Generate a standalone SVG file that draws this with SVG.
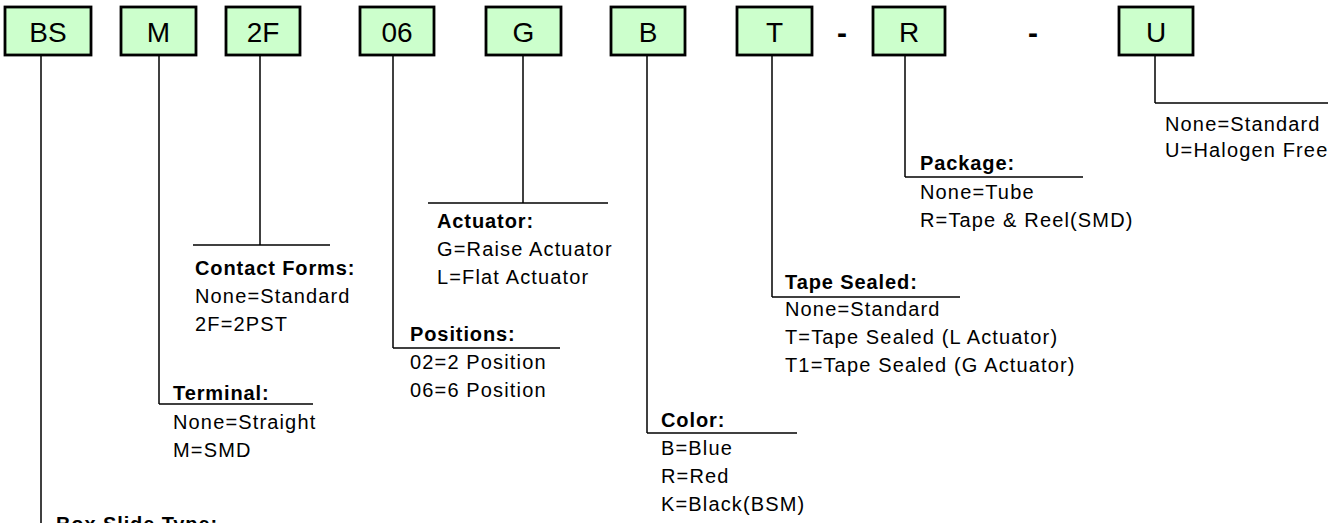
<svg xmlns="http://www.w3.org/2000/svg" width="1343" height="523" viewBox="0 0 1343 523">
<style>
.box{fill:#CCFFCC;stroke:#000;stroke-width:2.8}
.bt{font-family:"Liberation Sans",Arial,sans-serif;font-size:28px;text-anchor:middle;fill:#000}
.dash{font-family:"Liberation Sans",Arial,sans-serif;font-size:30px;font-weight:bold;text-anchor:middle;fill:#000}
.t{font-family:"Liberation Sans",Arial,sans-serif;font-size:20px;letter-spacing:1.15px;fill:#000}
.h{font-weight:bold;letter-spacing:0.9px}
#connectors line{stroke:#000;stroke-width:1.5}
</style>
<rect width="1343" height="523" fill="#fff"/>
<g id="connectors">
<line x1="41" y1="55" x2="41" y2="523"/>
<line x1="159" y1="55" x2="159" y2="404"/><line x1="159" y1="404" x2="313" y2="404"/>
<line x1="260" y1="55" x2="260" y2="245"/><line x1="193" y1="245" x2="330" y2="245"/>
<line x1="393" y1="55" x2="393" y2="348"/><line x1="393" y1="348" x2="560" y2="348"/>
<line x1="523" y1="55" x2="523" y2="203"/><line x1="428" y1="203" x2="608" y2="203"/>
<line x1="647" y1="55" x2="647" y2="433"/><line x1="647" y1="433" x2="797" y2="433"/>
<line x1="772" y1="55" x2="772" y2="297"/><line x1="772" y1="297" x2="960" y2="297"/>
<line x1="905" y1="55" x2="905" y2="177"/><line x1="905" y1="177" x2="1083" y2="177"/>
<line x1="1155" y1="55" x2="1155" y2="103"/><line x1="1155" y1="103" x2="1328" y2="103"/>
</g>
<g id="node-BS"><rect class="box" x="5" y="7" width="86" height="48"/><text class="bt" x="48" y="42">BS</text></g>
<g id="node-M"><rect class="box" x="121" y="7" width="75" height="48"/><text class="bt" x="158.5" y="42">M</text></g>
<g id="node-2F"><rect class="box" x="226" y="7" width="74" height="48"/><text class="bt" x="263" y="42">2F</text></g>
<g id="node-06"><rect class="box" x="360" y="7" width="74" height="48"/><text class="bt" x="397" y="42">06</text></g>
<g id="node-G"><rect class="box" x="486" y="7" width="75" height="48"/><text class="bt" x="523.5" y="42">G</text></g>
<g id="node-B"><rect class="box" x="611" y="7" width="74" height="48"/><text class="bt" x="648" y="42">B</text></g>
<g id="node-T"><rect class="box" x="737" y="7" width="75" height="48"/><text class="bt" x="774.5" y="42">T</text></g>
<text class="dash" x="842" y="43">-</text>
<g id="node-R"><rect class="box" x="873" y="7" width="72" height="48"/><text class="bt" x="909" y="42">R</text></g>
<text class="dash" x="1033" y="43">-</text>
<g id="node-U"><rect class="box" x="1119" y="7" width="74" height="48"/><text class="bt" x="1156" y="42">U</text></g>
<g id="label-boxslide"><text class="t h" x="56" y="531">Box Slide Type:</text></g>
<g id="label-terminal"><text class="t h" x="173" y="400">Terminal:</text><text class="t" x="173" y="429">None=Straight</text><text class="t" x="173" y="457">M=SMD</text></g>
<g id="label-contact"><text class="t h" x="195" y="275">Contact Forms:</text><text class="t" x="195" y="303">None=Standard</text><text class="t" x="195" y="331">2F=2PST</text></g>
<g id="label-positions"><text class="t h" x="410" y="341">Positions:</text><text class="t" x="410" y="369">02=2 Position</text><text class="t" x="410" y="397">06=6 Position</text></g>
<g id="label-actuator"><text class="t h" x="437" y="228">Actuator:</text><text class="t" x="437" y="256">G=Raise Actuator</text><text class="t" x="437" y="284">L=Flat Actuator</text></g>
<g id="label-color"><text class="t h" x="661" y="427">Color:</text><text class="t" x="661" y="455">B=Blue</text><text class="t" x="661" y="483">R=Red</text><text class="t" x="661" y="511">K=Black(BSM)</text></g>
<g id="label-tape"><text class="t h" x="785" y="289">Tape Sealed:</text><text class="t" x="785" y="316">None=Standard</text><text class="t" x="785" y="344">T=Tape Sealed (L Actuator)</text><text class="t" x="785" y="372">T1=Tape Sealed (G Actuator)</text></g>
<g id="label-package"><text class="t h" x="920" y="170">Package:</text><text class="t" x="920" y="199">None=Tube</text><text class="t" x="920" y="227">R=Tape &amp; Reel(SMD)</text></g>
<g id="label-u"><text class="t" x="1165" y="131">None=Standard</text><text class="t" x="1165" y="157">U=Halogen Free</text></g>
</svg>
